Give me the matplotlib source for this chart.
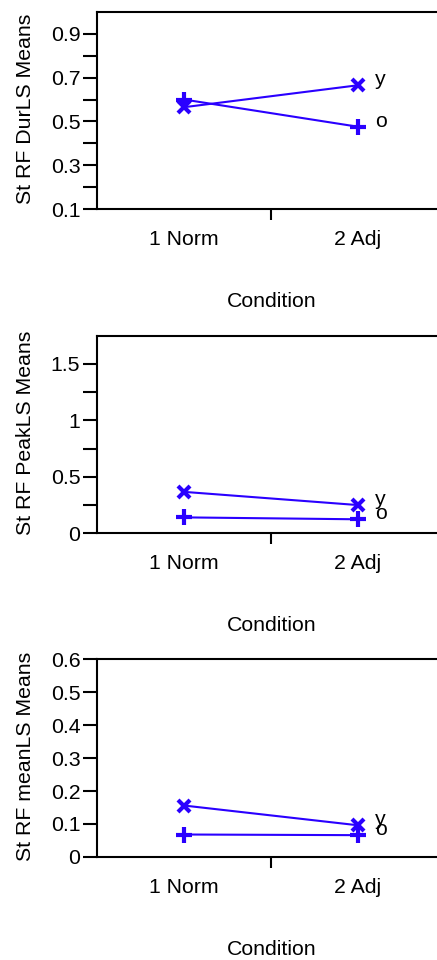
import matplotlib
matplotlib.use("Agg")
import matplotlib.pyplot as plt
from matplotlib.ticker import FixedLocator

plt.rcParams['font.family'] = ['Liberation Sans', 'DejaVu Sans']

conditions = ["1 Norm", "2 Adj"]
series_names = ["y", "o"]
dur_y = [0.565, 0.665]
dur_o = [0.600, 0.476]
peak_y = [0.367, 0.250]
peak_o = [0.141, 0.124]
mean_y = [0.156, 0.096]
mean_o = [0.068, 0.066]

panels = [
    dict(ylabel="St RF DurLS Means", y=dur_y, o=dur_o, ylim=(0.1, 1.0),
         major=[0.1, 0.3, 0.5, 0.7, 0.9], labels=["0.1", "0.3", "0.5", "0.7", "0.9"],
         minor=[0.2, 0.4, 0.6, 0.8]),
    dict(ylabel="St RF PeakLS Means", y=peak_y, o=peak_o, ylim=(0, 1.75),
         major=[0, 0.5, 1.0, 1.5], labels=["0", "0.5", "1", "1.5"],
         minor=[0.25, 0.75, 1.25]),
    dict(ylabel="St RF meanLS Means", y=mean_y, o=mean_o, ylim=(0, 0.6),
         major=[0, 0.1, 0.2, 0.3, 0.4, 0.5, 0.6],
         labels=["0", "0.1", "0.2", "0.3", "0.4", "0.5", "0.6"], minor=[]),
]

W, H = 437, 960
fig = plt.figure(figsize=(W / 100, H / 100), dpi=100)

color = '#2a00ff'
fs = 15.3
tops = [11.7, 335.7, 659.3]
axh = 197.6
left_px, right_px = 97, 445

for p, top in zip(panels, tops):
    ax = fig.add_axes([left_px / W, 1 - (top + axh) / H, (right_px - left_px) / W, axh / H])
    xs = [0.5, 1.5]
    ax.plot(xs, p["y"], color=color, lw=1.5, marker='x', ms=9, mew=3)
    ax.plot(xs, p["o"], color=color, lw=1.5, marker='+', ms=11, mew=3)
    ax.annotate(series_names[0], (xs[1], p["y"][1]), xytext=(12, 0),
                textcoords='offset points', fontsize=fs, va='baseline', ha='left')
    ax.annotate(series_names[1], (xs[1], p["o"][1]), xytext=(12, 0),
                textcoords='offset points', fontsize=fs, va='baseline', ha='left')
    ax.set_xlim(0, 2)
    ax.set_ylim(*p["ylim"])
    ax.spines['right'].set_visible(False)
    for s in ['left', 'top', 'bottom']:
        ax.spines[s].set_linewidth(1.5)
    ax.set_xticks(xs)
    ax.set_xticklabels(conditions, fontsize=fs)
    ax.xaxis.set_minor_locator(FixedLocator([1.0]))
    ax.tick_params(axis='x', which='major', length=0, pad=15)
    ax.tick_params(axis='x', which='minor', length=8, width=1.5, direction='out')
    ax.set_yticks(p["major"])
    ax.set_yticklabels(p["labels"], fontsize=fs)
    ax.yaxis.set_minor_locator(FixedLocator(p["minor"]))
    ax.tick_params(axis='y', which='both', length=10, width=1.5, direction='out', pad=2)
    ax.set_xlabel("Condition", fontsize=fs)
    ax.xaxis.set_label_coords(0.503, -0.42)
    ax.set_ylabel(p["ylabel"], fontsize=fs)
    ax.yaxis.set_label_coords(-0.177, 0.51)

fig.savefig("out.png", dpi=100)
